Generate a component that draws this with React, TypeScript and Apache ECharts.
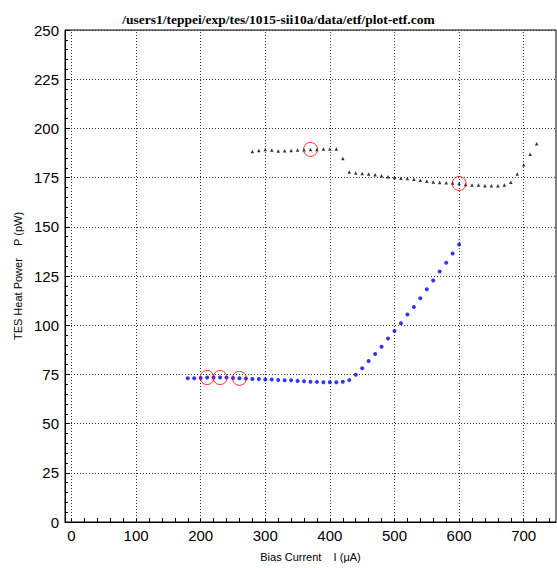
import React, { useEffect, useRef } from "react";
import * as echarts from "echarts";

const TITLE = "/users1/teppei/exp/tes/1015-sii10a/data/etf/plot-etf.com";
const X_NAME = "Bias Current    I (\u03bcA)";
const Y_NAME = "TES Heat Power    P (pW)";

const blackX = [
  280, 290, 300, 310, 320, 330, 340, 350, 360, 370, 380, 390, 400, 410, 420,
  430, 440, 450, 460, 470, 480, 490, 500, 510, 520, 530, 540, 550, 560, 570,
  580, 590, 600, 610, 620, 630, 640, 650, 660, 670, 680, 690, 700, 710, 720,
];
const blackY = [
  188.2, 188.8, 189.3, 189.0, 188.5, 188.6, 188.8, 189.0, 189.1, 189.3, 189.3,
  189.5, 189.5, 189.5, 184.7, 177.9, 177.4, 177.1, 176.8, 176.4, 175.9, 175.4,
  175.0, 174.7, 174.5, 174.2, 173.7, 173.2, 172.8, 172.5, 172.4, 172.2, 172.0,
  171.5, 171.2, 171.2, 170.8, 170.8, 170.8, 171.2, 172.7, 176.8, 181.5, 186.9,
  192.2,
];
const blueX = [
  180, 190, 200, 210, 220, 230, 240, 250, 260, 270, 280, 290, 300, 310, 320,
  330, 340, 350, 360, 370, 380, 390, 400, 410, 420, 430, 440, 450, 460, 470,
  480, 490, 500, 510, 520, 530, 540, 550, 560, 570, 580, 590, 600,
];
const blueY = [
  73.0, 73.0, 73.2, 73.4, 73.4, 73.4, 73.4, 73.2, 73.0, 72.9, 72.7, 72.7, 72.4,
  72.4, 72.2, 72.0, 72.0, 71.7, 71.5, 71.3, 71.2, 71.0, 71.0, 71.0, 71.3, 72.1,
  74.8, 78.1, 81.8, 85.4, 89.1, 93.2, 97.1, 101.0, 105.4, 109.3, 113.7, 118.3,
  122.7, 127.3, 131.7, 136.4, 141.0,
];
const circledBlackX = [370, 600];
const circledBlueX = [210, 230, 260];

const xMin = -10;
const xMax = 750;
const xMajorTicks = [0, 100, 200, 300, 400, 500, 600, 700];
const xMinorTicks = [
  0, 20, 40, 60, 80, 100, 120, 140, 160, 180, 200, 220, 240, 260, 280, 300, 320,
  340, 360, 380, 400, 420, 440, 460, 480, 500, 520, 540, 560, 580, 600, 620,
  640, 660, 680, 700, 720, 740,
];
const yMin = 0;
const yMax = 250;
const yStep = 25;

function pick(xs: number[], ys: number[], sel: number[]) {
  return sel.map((v) => [v, ys[xs.indexOf(v)]]);
}

export default function App() {
  const ref = useRef<HTMLDivElement>(null);
  useEffect(() => {
    if (!ref.current) return;
    const chart = echarts.init(ref.current, null, { renderer: "svg" });
    const sans = "Liberation Sans, Arial, sans-serif";
    const dotted = { color: "#333", width: 1, type: [1, 2] as any };
    const circles = [
      ...pick(blackX, blackY, circledBlackX),
      ...pick(blueX, blueY, circledBlueX),
    ];
    chart.setOption({
      animation: false,
      backgroundColor: "#fff",
      title: {
        text: TITLE,
        left: "center",
        top: 7,
        textStyle: {
          fontFamily: "Liberation Serif, Times New Roman, serif",
          fontWeight: "bold",
          fontSize: 13.5,
          color: "#000",
        },
      },
      grid: {
        left: 65,
        top: 30,
        width: 491,
        height: 492,
        show: true,
        borderColor: "#000",
        borderWidth: 1,
        backgroundColor: "transparent",
      },
      xAxis: {
        type: "value",
        min: xMin,
        max: xMax,
        name: X_NAME,
        nameLocation: "middle",
        nameGap: 29,
        nameTextStyle: { fontFamily: sans, fontSize: 11, color: "#000" },
        axisLine: { show: true, onZero: false, lineStyle: { color: "#000", width: 1 } },
        axisTick: {
          show: true,
          inside: true,
          length: 4,
          customValues: xMinorTicks,
          lineStyle: { color: "#000" },
        },
        axisLabel: {
          customValues: xMajorTicks,
          fontFamily: sans,
          fontSize: 15,
          color: "#000",
          margin: 6,
        },
        splitLine: { show: false },
      },
      yAxis: {
        type: "value",
        min: yMin,
        max: yMax,
        interval: yStep,
        name: Y_NAME,
        nameLocation: "middle",
        nameGap: 41,
        nameTextStyle: { fontFamily: sans, fontSize: 11, color: "#000" },
        axisLine: { show: true, onZero: false, lineStyle: { color: "#000", width: 1 } },
        axisTick: { show: true, inside: true, length: 5, lineStyle: { color: "#000" } },
        minorTick: { show: true, splitNumber: 5, length: 3, lineStyle: { color: "#000" } },
        axisLabel: { fontFamily: sans, fontSize: 15, color: "#000", margin: 6 },
        splitLine: { show: true, lineStyle: dotted },
      },
      series: [
        {
          type: "scatter",
          data: blackX.map((x, i) => [x, blackY[i]]),
          symbol: "triangle",
          symbolSize: 3.5,
          itemStyle: { color: "#000" },
          z: 3,
          markLine: {
            silent: true,
            symbol: "none",
            label: { show: false },
            lineStyle: dotted,
            data: xMajorTicks.map((v) => ({ xAxis: v })),
            z: 1,
          },
        },
        {
          type: "scatter",
          data: blueX.map((x, i) => [x, blueY[i]]),
          symbol: "circle",
          symbolSize: 4,
          itemStyle: { color: "#0000ff" },
          z: 3,
        },
        {
          type: "scatter",
          data: circles,
          symbol: "circle",
          symbolSize: 14,
          itemStyle: { color: "none", borderColor: "#ff0000", borderWidth: 1 },
          z: 4,
        },
      ],
    });
    return () => chart.dispose();
  }, []);
  return (
    <div
      ref={ref}
      style={{ position: "fixed", left: 0, top: 0, width: 557, height: 568 }}
    />
  );
}
